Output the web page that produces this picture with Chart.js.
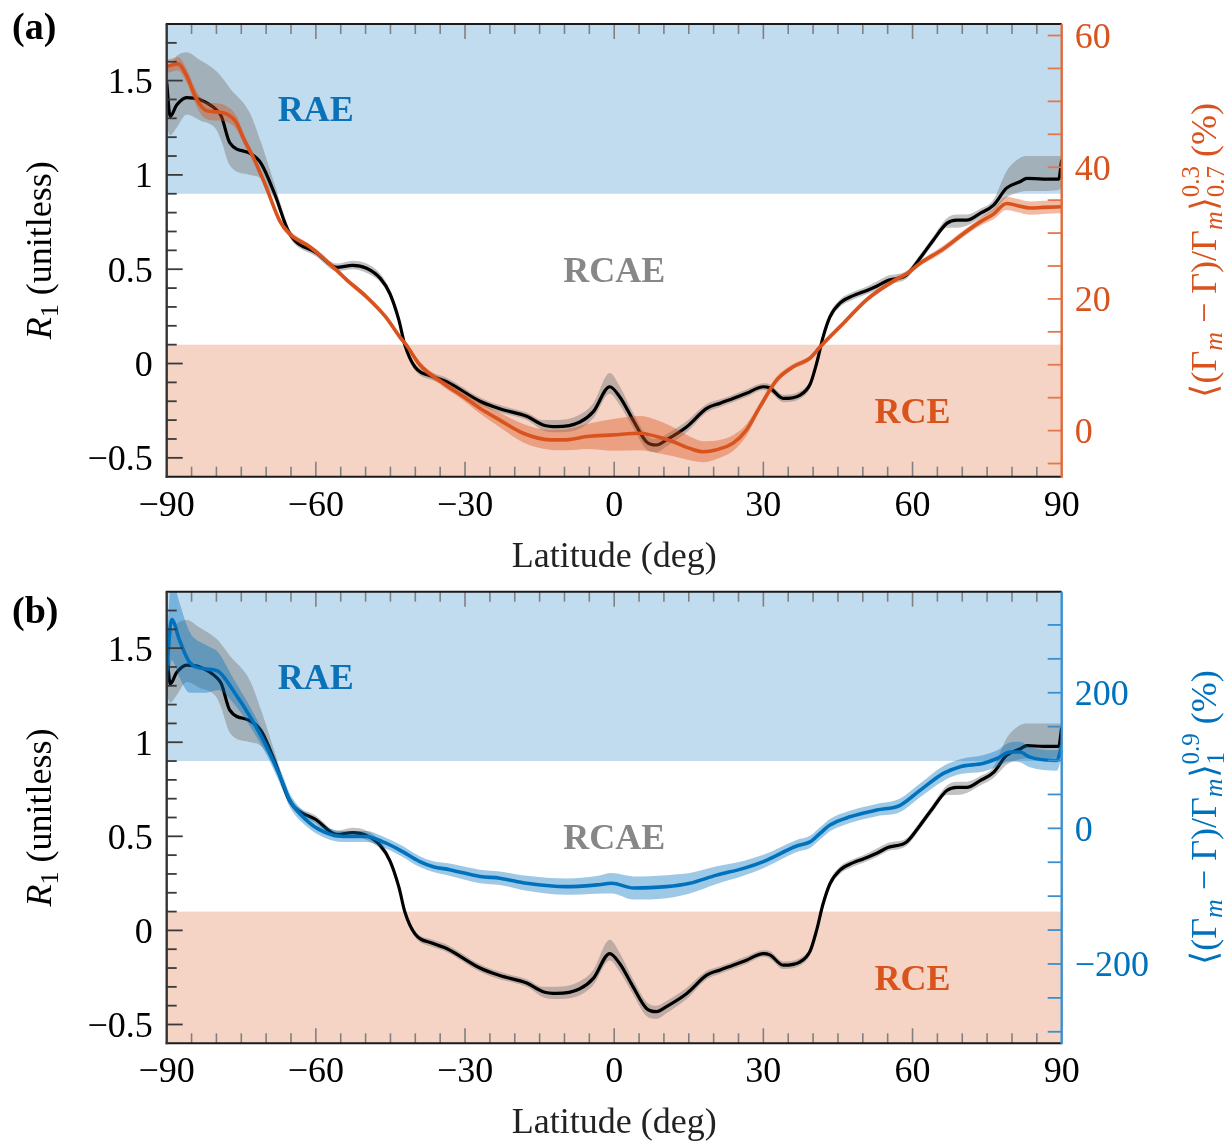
<!DOCTYPE html>
<html>
<head>
<meta charset="utf-8">
<title>R1 versus latitude</title>
<script src="https://cdn.jsdelivr.net/npm/chart.js@4.4.1/dist/chart.umd.min.js"></script>
<style>
  html, body { margin:0; padding:0; background:#ffffff; }
  #page { position:relative; width:1232px; height:1142px; overflow:hidden; background:#fff; }
  .panel { position:absolute; left:0; width:1232px; }
  canvas { display:block; }
</style>
</head>
<body>
<div id="page">
  <div class="panel" style="top:0px;height:600px;"><canvas id="chartA" width="1232" height="600"></canvas></div>
  <div class="panel" style="top:571px;height:571px;"><canvas id="chartB" width="1232" height="571"></canvas></div>
</div>
<script>
// ---------------- DATA ----------------
// R1 (black line, grey spread) — same in both panels
const r1Lat  = [-90, -89.3, -88, -86, -83.4, -80, -79, -77.3, -73.3, -71, -68.3, -65.3, -59.8, -55.8, -52.6, -49.8, -47, -45.1, -43.3, -42.1, -40.1, -36.4, -33.7, -27, -23, -17.6, -14.3, -11.6, -6.9, -4.2, -0.9, 1.1, 3.8, 6.5, 8.5, 10.5, 14.6, 18.6, 21.3, 23.9, 26.6, 30, 31.3, 34, 37.4, 39.4, 40.7, 42, 43.4, 45.4, 48.1, 50.1, 52.8, 55, 58.8, 61.5, 64.2, 66.9, 68.9, 70.9, 73.6, 76.3, 78.9, 81.6, 83, 86.3, 89.4, 90];
const r1Mean = [1.49, 1.31, 1.37, 1.41, 1.40, 1.345, 1.31, 1.17, 1.115, 1.06, 0.90, 0.69, 0.585, 0.51, 0.52, 0.505, 0.45, 0.37, 0.23, 0.098, -0.017, -0.07, -0.096, -0.2, -0.24, -0.28, -0.326, -0.335, -0.31, -0.255, -0.123, -0.176, -0.30, -0.415, -0.432, -0.405, -0.335, -0.238, -0.21, -0.185, -0.158, -0.123, -0.13, -0.185, -0.167, -0.11, 0.0, 0.14, 0.248, 0.32, 0.36, 0.38, 0.41, 0.44, 0.47, 0.558, 0.655, 0.743, 0.76, 0.76, 0.796, 0.84, 0.93, 0.964, 0.982, 0.978, 0.978, 1.08];
const r1Low  = [1.25, 1.21, 1.25, 1.32, 1.29, 1.24, 1.18, 1.05, 1.00, 0.98, 0.87, 0.67, 0.565, 0.49, 0.50, 0.48, 0.43, 0.35, 0.21, 0.08, -0.035, -0.09, -0.115, -0.22, -0.26, -0.30, -0.355, -0.365, -0.345, -0.29, -0.16, -0.22, -0.34, -0.455, -0.47, -0.44, -0.365, -0.26, -0.23, -0.205, -0.178, -0.14, -0.15, -0.205, -0.187, -0.13, -0.02, 0.12, 0.228, 0.30, 0.34, 0.36, 0.39, 0.42, 0.45, 0.538, 0.635, 0.72, 0.72, 0.73, 0.77, 0.81, 0.88, 0.91, 0.915, 0.915, 0.92, 0.93];
const r1High = [1.56, 1.58, 1.63, 1.65, 1.61, 1.55, 1.52, 1.46, 1.33, 1.17, 0.95, 0.715, 0.605, 0.53, 0.545, 0.53, 0.475, 0.39, 0.25, 0.12, 0.0, -0.05, -0.075, -0.18, -0.22, -0.26, -0.30, -0.30, -0.27, -0.21, -0.05, -0.12, -0.26, -0.38, -0.40, -0.375, -0.305, -0.215, -0.19, -0.165, -0.138, -0.105, -0.11, -0.165, -0.147, -0.09, 0.02, 0.16, 0.268, 0.34, 0.38, 0.40, 0.435, 0.465, 0.49, 0.578, 0.675, 0.77, 0.79, 0.79, 0.82, 0.87, 1.02, 1.09, 1.10, 1.10, 1.10, 1.10];

// Panel (a): <(Γm − Γ)/Γm> averaged 0.7–0.3 (%), orange
const lapseLatA    = [-90, -87.7, -86, -84.5, -83.4, -82, -80, -78, -76, -74.5, -72.6, -70, -67.3, -65.3, -61.2, -55.9, -53.8, -49.8, -46, -43.1, -41.8, -39.1, -34.4, -30, -27, -23, -18.3, -12.9, -9.6, -5.5, -0.2, 5.2, 8.5, 11.9, 15.2, 17.9, 20.6, 23.9, 26.6, 29.3, 32.7, 36, 39.4, 41.4, 46.1, 50.8, 56.8, 58.8, 61.5, 66.2, 70.2, 73.6, 76.3, 78.9, 81, 83.6, 86.3, 90];
const lapseMeanA   = [55.3, 55.7, 53.9, 51.2, 49.6, 48.6, 48.4, 48.1, 46.8, 44.3, 41.5, 37.0, 31.9, 29.9, 27.9, 24.4, 22.9, 20.3, 17.3, 14.2, 13.0, 10.0, 7.2, 5.0, 3.4, 1.6, -0.4, -1.4, -1.4, -0.9, -0.65, -0.4, -0.9, -1.7, -2.7, -3.2, -2.9, -1.9, 0.1, 3.6, 7.7, 9.7, 11.0, 12.7, 16.3, 19.9, 23.0, 23.8, 25.4, 27.6, 29.9, 31.7, 32.9, 34.5, 34.2, 33.8, 33.9, 34.0];
const lapseSpreadA = [1.0, 1.0, 1.0, 1.1, 1.2, 1.3, 1.3, 1.2, 1.0, 0.8, 0.6, 0.5, 0.5, 0.5, 0.4, 0.4, 0.4, 0.4, 0.4, 0.4, 0.4, 0.5, 0.5, 0.6, 0.8, 1.1, 1.4, 1.5, 1.6, 1.9, 2.4, 2.6, 2.5, 2.2, 1.8, 1.6, 1.4, 1.2, 0.9, 0.6, 0.5, 0.4, 0.4, 0.4, 0.4, 0.4, 0.4, 0.4, 0.4, 0.5, 0.5, 0.6, 0.8, 1.0, 1.0, 1.0, 1.0, 1.0];

// Panel (b): <(Γm − Γ)/Γm> averaged 1–0.9 (%), blue
const lapseLatB    = [-90, -89, -87.4, -85.4, -82, -79.7, -76.6, -72.6, -69.9, -66.6, -65.3, -61.9, -58.5, -54.5, -49.8, -46.5, -43.1, -39.1, -36.4, -33.1, -27, -23, -17.6, -9.6, -3.5, -0.5, 3.9, 10.5, 15.2, 20.6, 26, 30, 36.7, 39.4, 41.4, 43.4, 47.4, 52.8, 57.5, 61.5, 66.2, 69.6, 74.3, 77, 79.6, 81.6, 83.6, 89, 90];
const lapseMeanB   = [232, 308, 277, 245, 235, 232, 203, 157, 120, 66, 42, 12, -5, -12, -12, -20, -32, -49, -56.5, -61, -71, -73.5, -81, -86, -83.4, -81, -88, -86, -81, -69, -59, -49, -26, -20, -7.4, 4.9, 17, 27, 34, 56, 81, 91, 96, 103, 112.6, 112.6, 105, 100, 120];
const lapseSpreadB = [45, 60, 55, 45, 35, 28, 18, 14, 12, 11, 10, 9, 8, 8, 8, 8, 8, 8, 8, 9, 10, 10, 11, 12, 13, 15, 17, 17, 15, 13, 11, 10, 9, 9, 9, 9, 9, 9, 10, 10, 11, 11, 12, 12, 14, 15, 15, 15, 15];

// Tick labels
const latTickLabels    = [-90, -60, -30, 0, 30, 60, 90];
const r1TickLabels     = [-0.5, 0, 0.5, 1, 1.5];
const rightTickLabelsA = [0, 20, 40, 60];
const rightTickLabelsB = [-200, 0, 200];

// Regime thresholds on R1 and their labels
const regimeBounds = { rceUpper: 0.1, raeLower: 0.9 };
const regimeLabels = [
  { text: 'RAE',  lat: -60, r1: 1.35,  color: '#0b72b9' },
  { text: 'RCAE', lat: 0,   r1: 0.5,   color: '#878787' },
  { text: 'RCE',  lat: 60,  r1: -0.25, color: '#d9541c' }
];

// ---------------- RENDERING ----------------
const FAMILY = "'Liberation Serif','Times New Roman',Times,serif";
Chart.defaults.font.family = FAMILY;
Chart.defaults.font.size = 36;
Chart.defaults.color = '#000';

const panelSettings = {};   // per-canvas drawing settings (kept out of Chart.js option resolver)

function fmtTick(v) {
  const r = Math.round(v * 1000) / 1000;
  return String(r).replace('-', '\u2212');
}
function pts(xs, ys) { return xs.map((x, i) => ({ x: x, y: ys[i] })); }

function strokeLine(ctx, x1, y1, x2, y2) {
  ctx.beginPath(); ctx.moveTo(x1, y1); ctx.lineTo(x2, y2); ctx.stroke();
}

function partFont(p) {
  return (p.italic ? 'italic ' : '') + (p.size || 36) + 'px ' + FAMILY;
}
function drawRotatedRich(ctx, parts, baseX, centerY, color) {
  ctx.save();
  const widths = parts.map(p => {
    if (p.stack) {
      ctx.font = p.size + 'px ' + FAMILY;
      return Math.max(ctx.measureText(p.sup).width, ctx.measureText(p.sub).width);
    }
    ctx.font = partFont(p);
    return ctx.measureText(p.t).width;
  });
  const total = widths.reduce((s, w) => s + w, 0);
  ctx.translate(baseX, centerY);
  ctx.rotate(-Math.PI / 2);
  ctx.fillStyle = color;
  ctx.textAlign = 'left';
  ctx.textBaseline = 'alphabetic';
  let px = -total / 2;
  parts.forEach((p, i) => {
    if (p.stack) {
      ctx.font = p.size + 'px ' + FAMILY;
      ctx.fillText(p.sup, px, -p.rise);
      ctx.fillText(p.sub, px, p.drop);
    } else {
      ctx.font = partFont(p);
      ctx.fillText(p.t, px, -(p.shift || 0));
    }
    px += widths[i];
  });
  ctx.restore();
}

const regimePlugin = {
  id: 'regimes',
  beforeDatasetsDraw(chart) {
    const { ctx, chartArea: a, scales } = chart;
    const y = scales.y;
    ctx.save();
    const yRae = y.getPixelForValue(regimeBounds.raeLower);
    ctx.fillStyle = '#c1dcef';
    ctx.fillRect(a.left, a.top, a.right - a.left, yRae - a.top);
    const yRce = y.getPixelForValue(regimeBounds.rceUpper);
    ctx.fillStyle = '#f5d4c6';
    ctx.fillRect(a.left, yRce, a.right - a.left, a.bottom - yRce);
    ctx.restore();
  }
};

const framePlugin = {
  id: 'frame',
  afterDraw(chart) {
    const o = panelSettings[chart.canvas.id];
    const { ctx, chartArea: a, scales } = chart;
    const x = scales.x, y = scales.y, y2 = scales.y2;
    ctx.save();
    ctx.lineCap = 'butt';
    // latitude ticks (bottom and top, inward)
    ctx.strokeStyle = '#808080'; ctx.lineWidth = 1.6;
    for (let v = -85; v <= 85; v += 5) {
      const px = x.getPixelForValue(v);
      const len = (v % 30 === 0) ? 15 : 10;
      strokeLine(ctx, px, a.bottom, px, a.bottom - len);
      strokeLine(ctx, px, a.top, px, a.top + len);
    }
    // R1 ticks (left, inward)
    ctx.strokeStyle = '#3a3a3a'; ctx.lineWidth = 1.8;
    for (let k = -5; k <= 17; k++) {
      const py = y.getPixelForValue(k / 10);
      const len = (k % 5 === 0) ? 16 : 10;
      strokeLine(ctx, a.left, py, a.left + len, py);
    }
    // right axis ticks
    ctx.strokeStyle = o.tickColor; ctx.lineWidth = 1.8;
    for (let v = Math.ceil(y2.min / o.step) * o.step; v <= y2.max; v += o.step) {
      const py = y2.getPixelForValue(v);
      strokeLine(ctx, a.right - 14, py, a.right, py);
    }
    // frame lines
    ctx.lineWidth = 2;
    ctx.strokeStyle = '#1a1a1a';
    strokeLine(ctx, a.left - 1, a.top, a.right, a.top);
    strokeLine(ctx, a.left - 1, a.bottom, a.right, a.bottom);
    ctx.strokeStyle = '#333333';
    ctx.lineWidth = 2.4;
    strokeLine(ctx, a.left, a.top, a.left, a.bottom + 1);
    ctx.strokeStyle = o.axisColor;
    ctx.lineWidth = 2.4;
    strokeLine(ctx, a.right, a.top, a.right, a.bottom + 1);
    ctx.restore();
  }
};

const textPlugin = {
  id: 'texts',
  afterDraw(chart) {
    const o = panelSettings[chart.canvas.id];
    const { ctx, chartArea: a, scales } = chart;
    const x = scales.x, y = scales.y;
    ctx.save();
    ctx.font = 'bold 36px ' + FAMILY;
    ctx.textAlign = 'center';
    ctx.textBaseline = 'middle';
    regimeLabels.forEach(r => {
      ctx.fillStyle = r.color;
      ctx.fillText(r.text, x.getPixelForValue(r.lat), y.getPixelForValue(r.r1) + 3);
    });
    // panel letter
    ctx.fillStyle = '#000';
    ctx.textAlign = 'left';
    ctx.textBaseline = 'alphabetic';
    ctx.font = 'bold 38px ' + FAMILY;
    ctx.fillText(o.letter, 12, o.letterY);
    // x title
    ctx.font = '36px ' + FAMILY;
    ctx.fillStyle = '#222';
    ctx.textAlign = 'center';
    ctx.fillText('Latitude (deg)', (a.left + a.right) / 2, o.xTitleY);
    // y titles
    const mid = (a.top + a.bottom) / 2;
    drawRotatedRich(ctx, [
      { t: 'R', italic: true },
      { t: '1', size: 26, shift: -7 },
      { t: ' (unitless)' }
    ], 51, mid, '#000');
    drawRotatedRich(ctx, o.rightTitle, 1216, mid, o.color);
    ctx.restore();
  }
};

function zeroPad(s) { s.paddingTop = 0; s.paddingBottom = 0; s.paddingLeft = 0; s.paddingRight = 0; }

function makeChart(canvasId, cfg) {
  panelSettings[canvasId] = cfg;
  const colorHi = cfg.lat.map((v, i) => cfg.mean[i] + cfg.spread[i]);
  const colorLo = cfg.lat.map((v, i) => cfg.mean[i] - cfg.spread[i]);
  const common = { pointRadius: 0, pointHoverRadius: 0, cubicInterpolationMode: 'monotone' };
  const tickFont = { family: FAMILY, size: 36 };
  return new Chart(document.getElementById(canvasId), {
    type: 'line',
    data: {
      datasets: [
        Object.assign({ data: pts(r1Lat, r1High), yAxisID: 'y', borderWidth: 0, fill: '+1', backgroundColor: 'rgba(128,128,128,0.48)', order: 6 }, common),
        Object.assign({ data: pts(r1Lat, r1Low), yAxisID: 'y', borderWidth: 0, fill: false, order: 5 }, common),
        Object.assign({ data: pts(r1Lat, r1Mean), yAxisID: 'y', borderColor: '#000000', borderWidth: 3.2, fill: false, order: 4 }, common),
        Object.assign({ data: pts(cfg.lat, colorHi), yAxisID: 'y2', borderWidth: 0, fill: '+1', backgroundColor: cfg.band, order: 3 }, common),
        Object.assign({ data: pts(cfg.lat, colorLo), yAxisID: 'y2', borderWidth: 0, fill: false, order: 2 }, common),
        Object.assign({ data: pts(cfg.lat, cfg.mean), yAxisID: 'y2', borderColor: cfg.color, borderWidth: 3.6, fill: false, order: 1 }, common)
      ]
    },
    options: {
      responsive: false,
      animation: false,
      devicePixelRatio: 1,
      layout: { autoPadding: false, padding: { top: cfg.top, left: 0, right: 0, bottom: 0 } },
      plugins: {
        legend: { display: false },
        tooltip: { enabled: false }
      },
      scales: {
        x: {
          type: 'linear', position: 'bottom', min: -90, max: 90,
          grid: { display: false, drawTicks: false }, border: { display: false },
          afterBuildTicks: s => { s.ticks = latTickLabels.map(v => ({ value: v })); },
          afterFit: s => { s.height = cfg.xHeight; zeroPad(s); },
          ticks: { autoSkip: false, maxRotation: 0, padding: 8, color: '#000', font: tickFont, callback: v => fmtTick(v) }
        },
        y: {
          type: 'linear', position: 'left', min: -0.6, max: 1.8,
          grid: { display: false, drawTicks: false }, border: { display: false },
          afterBuildTicks: s => { s.ticks = r1TickLabels.map(v => ({ value: v })); },
          afterFit: s => { s.width = 166.7; zeroPad(s); },
          ticks: { autoSkip: false, padding: 14, labelOffset: 3, color: '#000', font: tickFont, callback: v => fmtTick(v) }
        },
        y2: {
          type: 'linear', position: 'right', min: cfg.rMin, max: cfg.rMax,
          grid: { display: false, drawTicks: false }, border: { display: false },
          afterBuildTicks: s => { s.ticks = cfg.rightTicks.map(v => ({ value: v })); },
          afterFit: s => { s.width = 1232 - 1061.7; zeroPad(s); },
          ticks: { autoSkip: false, padding: 13, labelOffset: 3, color: cfg.color, font: tickFont, callback: v => fmtTick(v) }
        }
      }
    },
    plugins: [regimePlugin, framePlugin, textPlugin]
  });
}

const GAMMA = '\u0393';
makeChart('chartA', {
  lat: lapseLatA, mean: lapseMeanA, spread: lapseSpreadA,
  color: '#d9531e', band: 'rgba(217,83,25,0.40)', tickColor: '#e2784a', axisColor: '#df6a3a', step: 5,
  rMin: -7, rMax: 61.75, rightTicks: rightTickLabelsA,
  top: 24, xHeight: 600 - 476.7, letter: '(a)', letterY: 39, xTitleY: 567,
  rightTitle: [
    { t: '\u27E8(' + GAMMA }, { t: 'm', italic: true, size: 26, shift: -6 },
    { t: ' \u2212 ' + GAMMA + ')/' + GAMMA }, { t: 'm', italic: true, size: 26, shift: -6 },
    { t: '\u27E9' }, { stack: true, sup: '0.3', sub: '0.7', size: 25, rise: 17, drop: 8 },
    { t: ' (%)' }
  ]
});
makeChart('chartB', {
  lat: lapseLatB, mean: lapseMeanB, spread: lapseSpreadB,
  color: '#0072bd', band: 'rgba(0,114,189,0.38)', tickColor: '#3a8fd0', axisColor: '#3a8fd0', step: 50,
  rMin: -317, rMax: 349, rightTicks: rightTickLabelsB,
  top: 20.7, xHeight: 571 - 472.3, letter: '(b)', letterY: 52, xTitleY: 562,
  rightTitle: [
    { t: '\u27E8(' + GAMMA }, { t: 'm', italic: true, size: 26, shift: -6 },
    { t: ' \u2212 ' + GAMMA + ')/' + GAMMA }, { t: 'm', italic: true, size: 26, shift: -6 },
    { t: '\u27E9' }, { stack: true, sup: '0.9', sub: '1', size: 25, rise: 17, drop: 8 },
    { t: ' (%)' }
  ]
});
</script>
</body>
</html>
